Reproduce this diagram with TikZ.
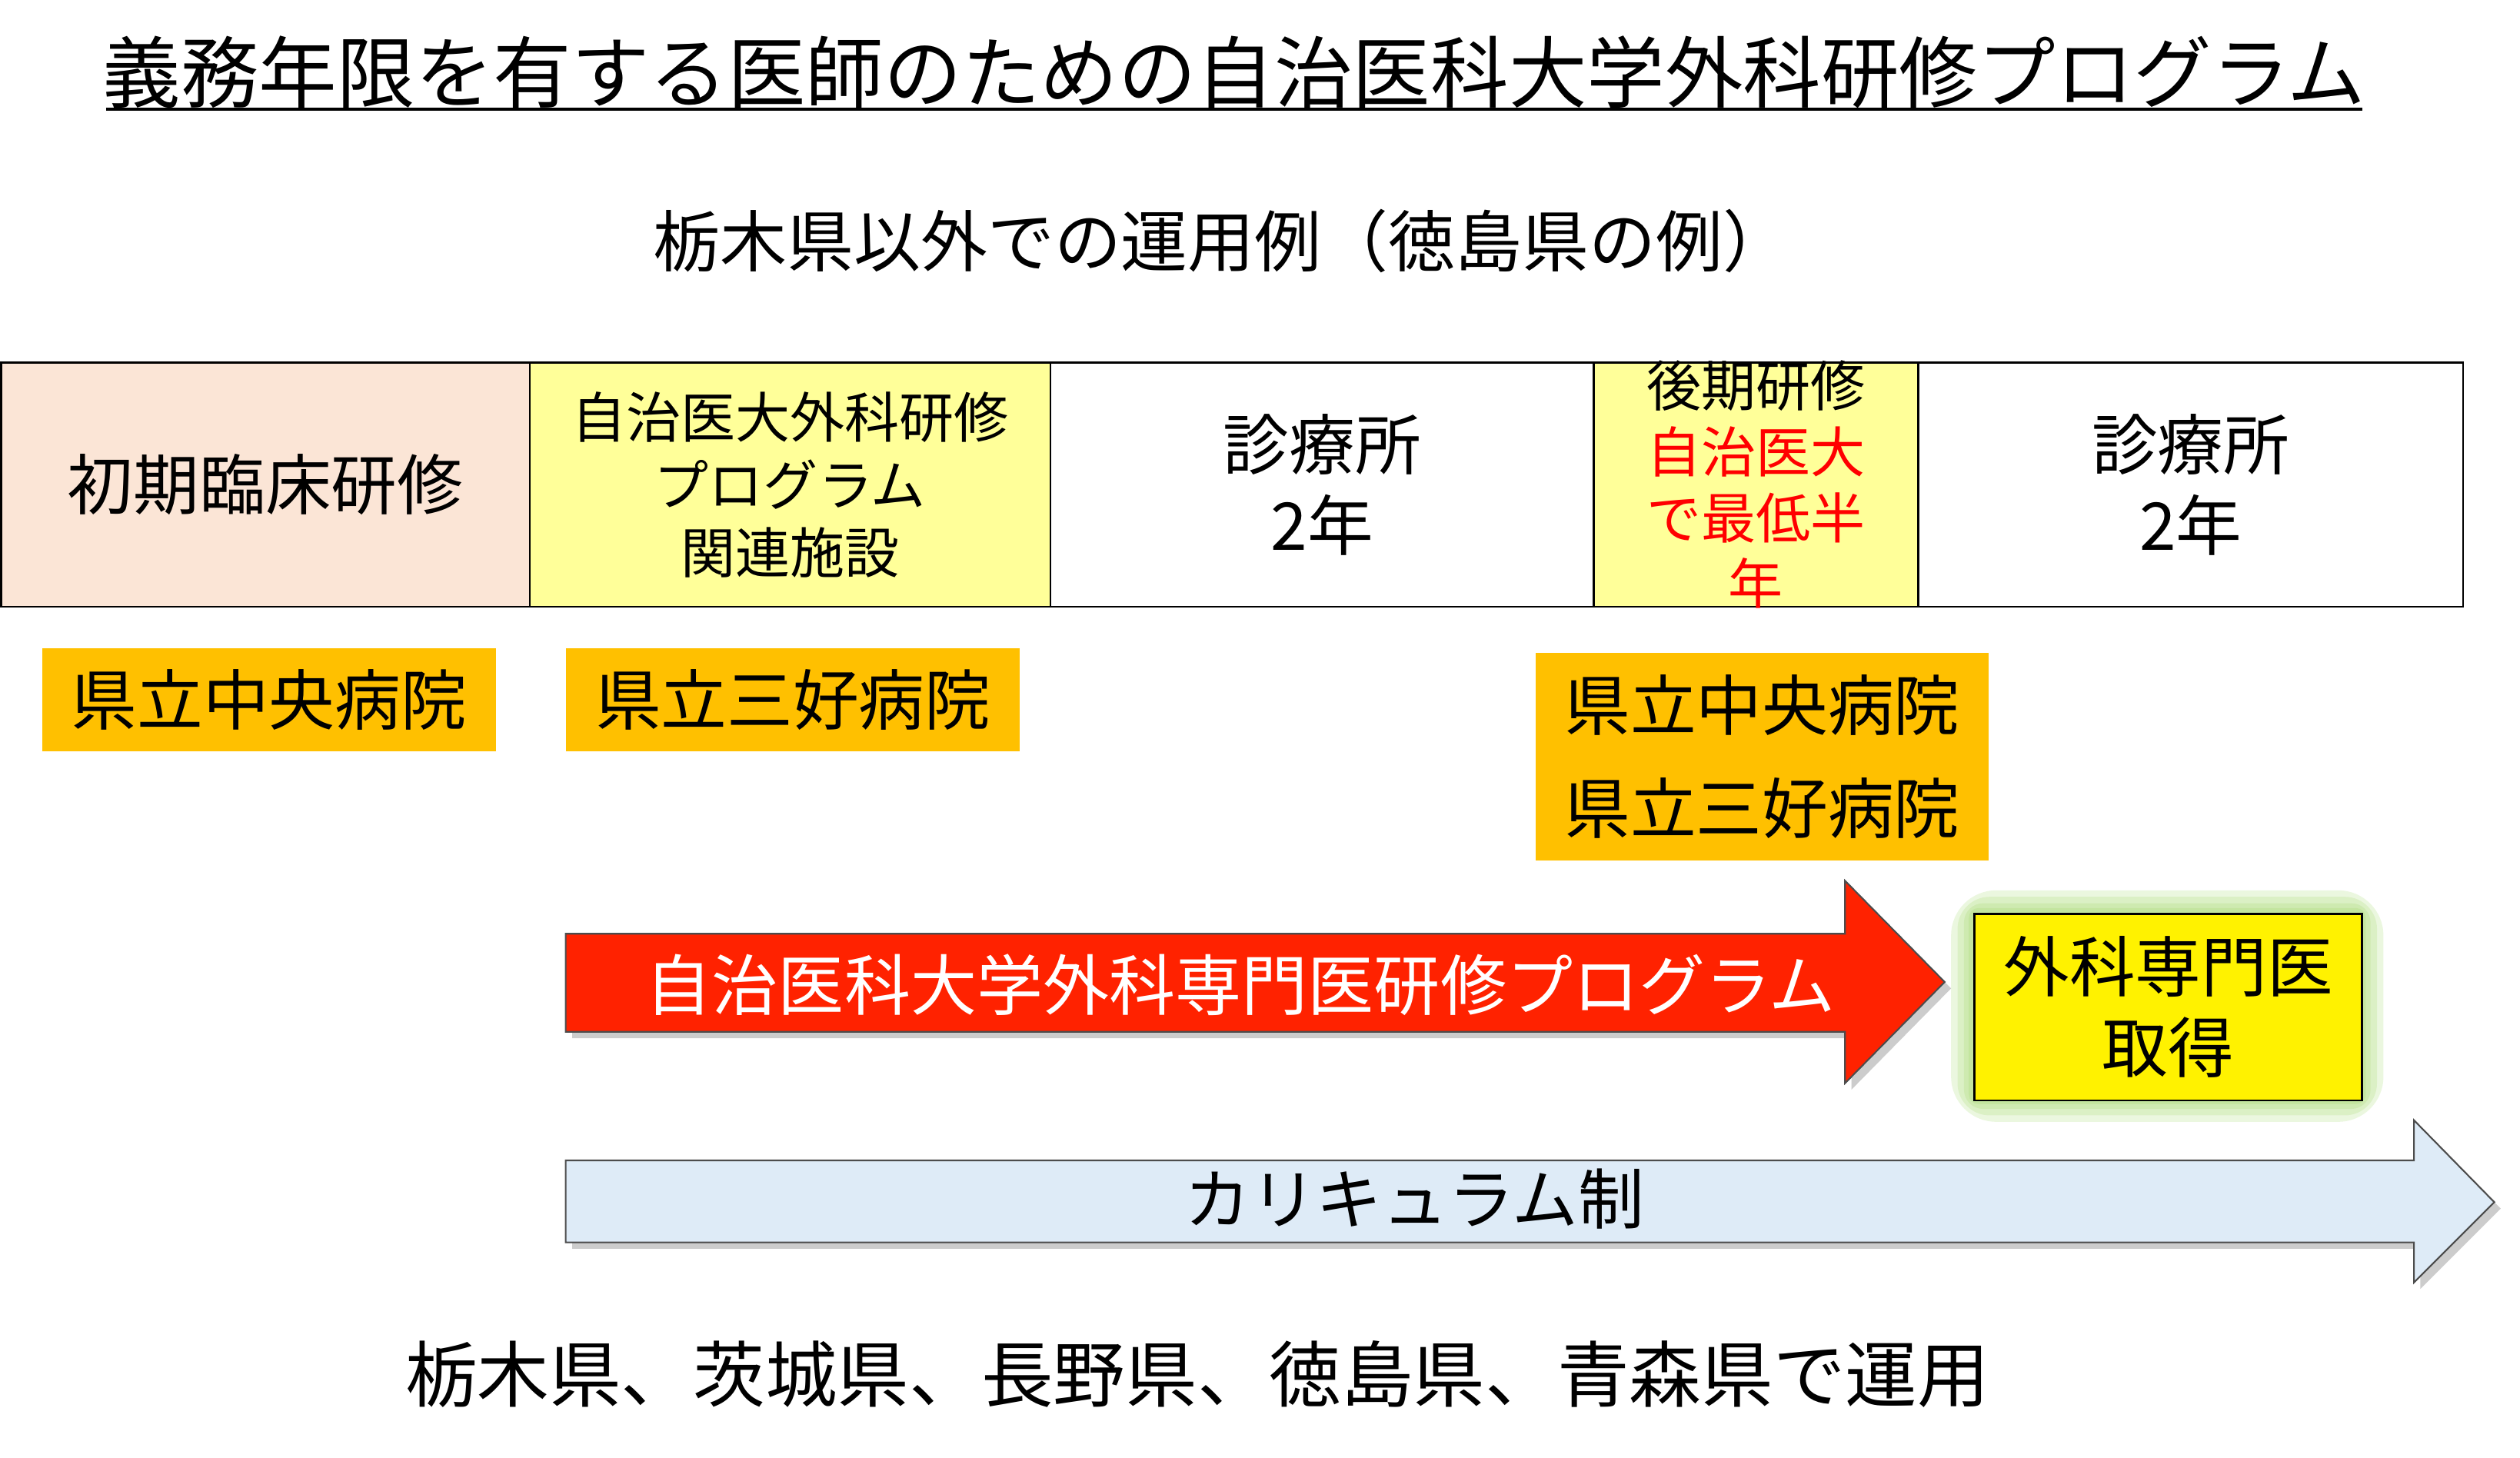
\documentclass[tikz,border=0pt]{standalone}
\usepackage{fontspec}
\setmainfont{Noto Sans CJK JP}
\usetikzlibrary{positioning}
\usetikzlibrary{shadows}
\definecolor{pinkcell}{HTML}{FBE5D6}
\definecolor{yellowcell}{HTML}{FFFF99}
\definecolor{orangebox}{HTML}{FFC000}
\definecolor{redarrow}{HTML}{FF2200}
\definecolor{bluearrow}{HTML}{DEEBF7}
\definecolor{glow}{HTML}{92D050}
\tikzset{
    cell/.style={draw=black, line width=0.6pt, minimum height=76pt, anchor=north west, align=center, font=\fontsize{20.5}{25}\selectfont},
    hospital/.style={fill=orangebox, anchor=north west, align=center, font=\fontsize{20.5}{32}\selectfont},
    arrowbody/.style={draw=black!70, line width=0.5pt, drop shadow={shadow xshift=2pt, shadow yshift=-2pt, opacity=0.4}},
}
\begin{document}
\begin{tikzpicture}[x=0.5pt, y=-0.5pt]
	\useasboundingbox (0,0) rectangle (1568,907);
	\node (title) at (768,45) {\fontsize{24.3}{28}\selectfont 義務年限を有する医師のための自治医科大学外科研修プログラム};
	\draw[line width=0.8pt] (66,68)--(1470,68);
	\node (sub) at (760,150) {\fontsize{20.8}{24}\selectfont 栃木県以外での運用例（徳島県の例）};
	% table row
	\node[cell, fill=pinkcell, minimum width=164.5pt] (c1) at (0,225) {初期臨床研修};
	\node[cell, fill=yellowcell, minimum width=162pt, font=\fontsize{17}{21}\selectfont] (c2) at (329,225) {自治医大外科研修\\プログラム\\関連施設};
	\node[cell, minimum width=169pt] (c3) at (653,225) {診療所\\2年};
	\node[cell, fill=yellowcell, minimum width=101pt] (c4) at (991,225) {};
	\node[align=center, font=\fontsize{17}{20.5}\selectfont] (c4text) at (c4.center) {後期研修\\\textcolor{red}{自治医大}\\\textcolor{red}{で最低半}\\\textcolor{red}{年}};
	\node[cell, minimum width=169.5pt] (c5) at (1193,225) {診療所\\2年};
	% hospitals
	\node[hospital, minimum width=141pt, minimum height=32pt] (h1) at (26,403) {県立中央病院};
	\node[hospital, minimum width=141pt, minimum height=32pt] (h2) at (352,403) {県立三好病院};
	\node[hospital, minimum width=141pt, minimum height=64.5pt] (h3) at (955,406) {県立中央病院\\県立三好病院};
	% programme arrow
	\draw[arrowbody, fill=redarrow] (352,581)--(1148,581)--(1148,548)--(1210,611)--(1148,674)--(1148,642)--(352,642)--cycle;
	\node[text=white, font=\fontsize{20.6}{24}\selectfont] (prog) at (772,613) {自治医科大学外科専門医研修プログラム};
	% specialist box with glow
	\foreach \g in {14,10,6,3}
		\fill[glow, opacity=0.18, rounded corners=\g pt] (1228-\g,568-\g) rectangle (1469+\g,684+\g);
	\node[draw=black, line width=0.6pt, fill=yellow, minimum width=120.5pt, minimum height=58pt, anchor=north west, align=center, font=\fontsize{20.5}{25}\selectfont] (spec) at (1228,568) {外科専門医\\取得};
	% curriculum arrow
	\draw[arrowbody, fill=bluearrow] (352,722)--(1502,722)--(1502,697)--(1552,748)--(1502,798)--(1502,773)--(352,773)--cycle;
	\node[font=\fontsize{20.5}{24}\selectfont] (curr) at (880,746) {カリキュラム制};
	\node[font=\fontsize{22.4}{26}\selectfont] (pref) at (745,855) {栃木県、茨城県、長野県、徳島県、青森県で運用};
\end{tikzpicture}
\end{document}
